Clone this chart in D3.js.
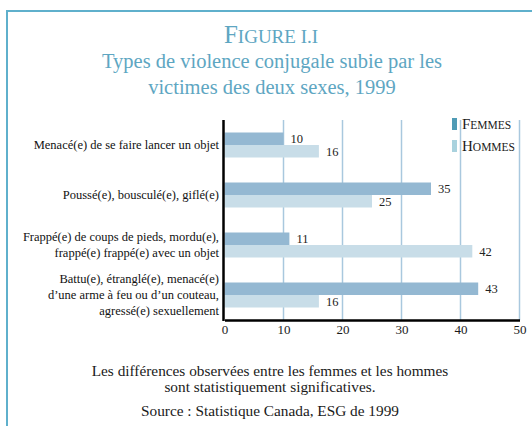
<!DOCTYPE html>
<html><head><meta charset="utf-8">
<script src="https://cdn.jsdelivr.net/npm/d3@7"></script>
<style>body{margin:0;background:#fff;} svg{display:block;}</style>
</head><body>
<svg id="c" width="532" height="426"></svg>
<script>
const categories = [
  ["Menacé(e) de se faire lancer un objet"],
  ["Poussé(e), bousculé(e), giflé(e)"],
  ["Frappé(e) de coups de pieds, mordu(e),", "frappé(e) frappé(e) avec un objet"],
  ["Battu(e), étranglé(e), menacé(e)", "d’une arme à feu ou d’un couteau,", "agressé(e) sexuellement"]
];
const femmes = [10, 35, 11, 43];
const hommes = [16, 25, 42, 16];
const seriesNames = ["Femmes", "Hommes"];
const xTicks = [0, 10, 20, 30, 40, 50];

const svg = d3.select("#c");
const serif = "'Liberation Serif','DejaVu Serif',serif";
const titleColor = "#5ea6c2";

// frame
svg.append("path").attr("d", "M7,426 V11 H532").attr("fill", "none")
  .attr("stroke", "#5fb0cc").attr("stroke-width", 2);

// titles
const t1 = svg.append("text").attr("x", 271).attr("y", 43).attr("text-anchor", "middle")
  .attr("font-family", serif).attr("fill", titleColor);
t1.append("tspan").attr("font-size", 25).text("F");
t1.append("tspan").attr("font-size", 19).text("IGURE I.I");
svg.append("text").attr("x", 272).attr("y", 68).attr("text-anchor", "middle")
  .attr("font-family", serif).attr("font-size", 20.5).attr("fill", titleColor)
  .text("Types de violence conjugale subie par les");
svg.append("text").attr("x", 272).attr("y", 94).attr("text-anchor", "middle")
  .attr("font-family", serif).attr("font-size", 20.5).attr("fill", titleColor)
  .text("victimes des deux sexes, 1999");

const x = d3.scaleLinear().domain([0, 50]).range([224.5, 519.5]);
const y = d3.scaleBand().domain(d3.range(categories.length)).range([120, 320])
  .paddingInner(0.5).paddingOuter(0.25);
const sub = d3.scaleBand().domain([0, 1]).range([0, y.bandwidth()]);
const colors = ["#94b8d2", "#c8dde8"];
const legendColors = ["#4f9bb5", "#a9d2de"];

// gridlines
svg.append("g").selectAll("line").data(xTicks.filter(d => d > 0)).join("line")
  .attr("x1", d => x(d)).attr("x2", d => x(d)).attr("y1", 120).attr("y2", 320)
  .attr("stroke", "#a9c8de").attr("stroke-width", 1.5);

// bars
const data = categories.map((c, i) => ({i, vals: [femmes[i], hommes[i]]}));
const g = svg.append("g").selectAll("g").data(data).join("g")
  .attr("transform", d => `translate(0,${y(d.i)})`);
g.selectAll("rect").data(d => d.vals.map((v, k) => ({v, k}))).join("rect")
  .attr("x", x(0)).attr("y", d => sub(d.k)).attr("width", d => x(d.v) - x(0))
  .attr("height", sub.bandwidth()).attr("fill", d => colors[d.k]);
g.selectAll("text.val").data(d => d.vals.map((v, k) => ({v, k}))).join("text")
  .attr("class", "val").attr("x", d => x(d.v) + 7).attr("y", d => sub(d.k) + sub.bandwidth() / 2 + 4.5)
  .attr("font-family", serif).attr("font-size", 12.5).attr("fill", "#222").text(d => d.v);

// category labels
svg.append("g").selectAll("text").data(data).join("text")
  .attr("text-anchor", "end").attr("font-family", serif).attr("font-size", 12.5).attr("fill", "#111")
  .each(function(d) {
    const lines = categories[d.i];
    const cy = y(d.i) + y.bandwidth() / 2;
    const start = cy + 4 - (lines.length - 1) * 16 / 2;
    d3.select(this).selectAll("tspan").data(lines).join("tspan")
      .attr("x", 219).attr("y", (l, j) => start + j * 16).text(l => l);
  });

// axes
const xAxis = svg.append("g").attr("transform", "translate(0,320)")
  .call(d3.axisBottom(x).tickValues(xTicks).tickSize(0).tickPadding(5));
xAxis.select(".domain").attr("stroke", "#000").attr("stroke-width", 2.5);
xAxis.selectAll("text").attr("font-family", serif).attr("font-size", 13).attr("fill", "#1a1a1a");
svg.append("line").attr("x1", x(0) - 1).attr("x2", x(0) - 1).attr("y1", 120).attr("y2", 321)
  .attr("stroke", "#000").attr("stroke-width", 2.5);

// legend
const lg = svg.append("g").selectAll("g").data(seriesNames).join("g")
  .attr("transform", (d, i) => `translate(452,${118 + i * 22})`);
lg.append("rect").attr("width", 5).attr("height", 12).attr("fill", (d, i) => legendColors[i]);
const lt = lg.append("text").attr("x", 10).attr("y", 11).attr("font-family", serif).attr("fill", "#1a1a1a");
lt.append("tspan").attr("font-size", 15).text(d => d[0]);
lt.append("tspan").attr("font-size", 11.5).text(d => d.slice(1).toUpperCase());

// footnotes
const foot = [["Les différences observées entre les femmes et les hommes", 376, 15.3],
  ["sont statistiquement significatives.", 392, 15.3], ["Source : Statistique Canada, ESG de 1999", 416, 15.3]];
svg.append("g").selectAll("text").data(foot).join("text")
  .attr("x", 270).attr("y", d => d[1]).attr("text-anchor", "middle")
  .attr("font-family", serif).attr("font-size", d => d[2]).attr("fill", "#1a1a1a").text(d => d[0]);
</script>
</body></html>
